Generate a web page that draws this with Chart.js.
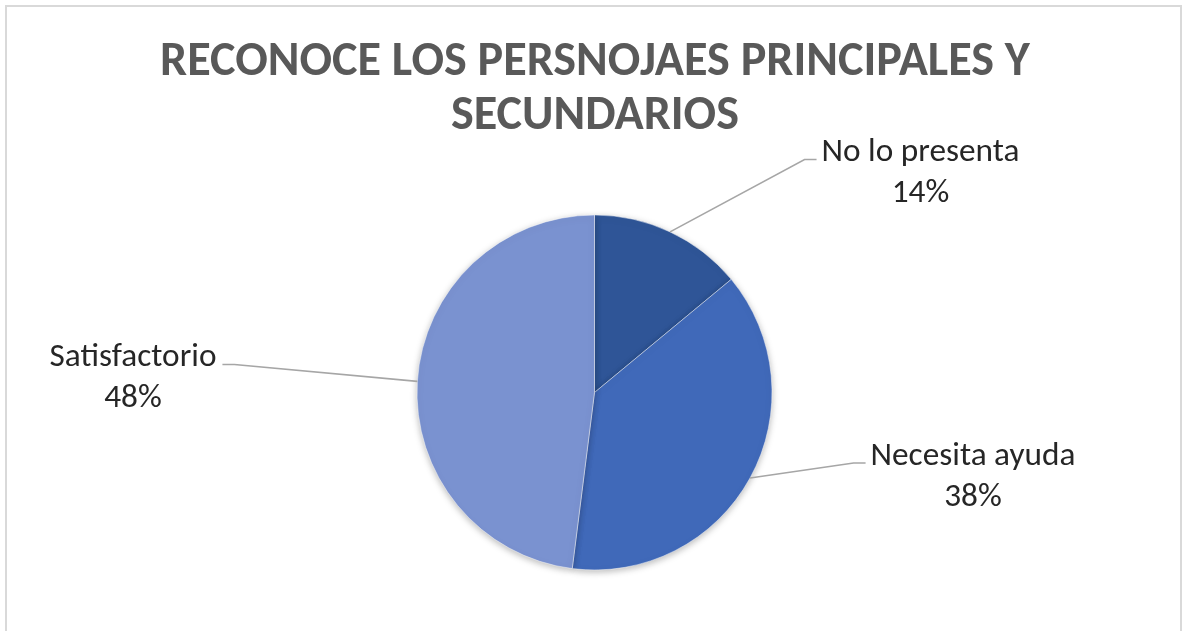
<!DOCTYPE html>
<html>
<head>
<meta charset="utf-8">
<script src="https://cdn.jsdelivr.net/npm/chart.js@4.4.1/dist/chart.umd.min.js"></script>
<style>
  html, body { margin: 0; padding: 0; background: #fff; overflow: hidden; }
  #wrap { position: relative; width: 1182px; height: 631px; }
  #frame { position: absolute; left: 5px; top: 5px; width: 1177px; height: 700px; box-sizing: border-box; border: 2px solid #d9d9d9; pointer-events: none; }
  canvas { position: absolute; left: 0; top: 0; }
</style>
</head>
<body>
<div id="wrap">
  <canvas id="chart" width="1182" height="631"></canvas>
  <div id="frame"></div>
</div>
<script>
/* pie: reconoce personajes */
const TITLE_LINES = ["RECONOCE LOS PERSNOJAES PRINCIPALES Y", "SECUNDARIOS"];
const CATEGORIES = ["No lo presenta", "Necesita ayuda", "Satisfactorio"];
const VALUES = [14, 38, 48];
const COLORS = ["#2F5597", "#4069B9", "#7A92D0"];

// label block centre, relative to pie centre (style only)
const LABEL_OFFSETS = [[326, -221.5], [378.5, 82], [-461.5, -16.5]];
const FONT_STACK = "Carlito, 'Open Sans', 'Noto Sans', sans-serif";

function fitSize(ctx, text, weight, target) {
  ctx.font = weight + " 100px " + FONT_STACK;
  return 100 * target / ctx.measureText(text).width;
}

const shadowPlugin = {
  id: "shadow",
  beforeDatasetsDraw(chart) {
    const ctx = chart.ctx;
    ctx.save();
    ctx.shadowColor = "rgba(0,0,0,0.28)";
    ctx.shadowBlur = 7;
    ctx.shadowOffsetY = 2;
  },
  afterDatasetsDraw(chart) { chart.ctx.restore(); }
};

const labelPlugin = {
  id: "labels",
  afterDraw(chart) {
    const ctx = chart.ctx;
    ctx.save();
    // title
    const ts = fitSize(ctx, TITLE_LINES[0], "bold", 870);
    ctx.font = "bold " + ts + "px " + FONT_STACK;
    ctx.fillStyle = "#595959";
    ctx.textAlign = "center";
    ctx.textBaseline = "alphabetic";
    ctx.fillText(TITLE_LINES[0], 595, 75);
    ctx.fillText(TITLE_LINES[1], 595, 129);

    // data labels + leader lines
    const ls = fitSize(ctx, "No lo presenta", "normal", 198);
    ctx.font = ls + "px " + FONT_STACK;
    const total = VALUES.reduce((a, b) => a + b, 0);
    const meta = chart.getDatasetMeta(0);
    meta.data.forEach((arc, i) => {
      const p = arc.getProps(["x", "y", "startAngle", "endAngle", "outerRadius"], true);
      const mid = (p.startAngle + p.endAngle) / 2;
      const sx = p.x + Math.cos(mid) * p.outerRadius;
      const sy = p.y + Math.sin(mid) * p.outerRadius;
      const cx = p.x + LABEL_OFFSETS[i][0];
      const cy = p.y + LABEL_OFFSETS[i][1];
      const line1 = CATEGORIES[i];
      const line2 = Math.round(VALUES[i] / total * 100) + "%";
      const w = ctx.measureText(line1).width;
      const right = cx > p.x;
      const ex = right ? cx - w / 2 - 5 : cx + w / 2 + 6;
      const ey = cy - 20.5 + 9;
      const kx = right ? ex - 12 : ex + 12;
      ctx.strokeStyle = "#A6A6A6";
      ctx.lineWidth = 1.6;
      ctx.beginPath();
      ctx.moveTo(sx, sy);
      ctx.lineTo(kx, ey);
      ctx.lineTo(ex, ey);
      ctx.stroke();
      ctx.fillStyle = "#262626";
      ctx.textAlign = "center";
      ctx.fillText(line1, cx, cy - 20.5 + 10.5);
      ctx.fillText(line2, cx, cy + 20.5 + 10.5);
    });
    ctx.restore();
  }
};

new Chart(document.getElementById("chart"), {
  type: "pie",
  data: {
    labels: CATEGORIES,
    datasets: [{
      data: VALUES,
      backgroundColor: COLORS,
      borderColor: "rgba(255,255,255,0.45)",
      borderWidth: 1,
      radius: 177.5,
    }],
  },
  options: {
    responsive: false,
    animation: false,
    devicePixelRatio: 1,
    layout: { padding: { top: 215, bottom: 61, left: 7, right: 0 } },
    plugins: { legend: { display: false }, tooltip: { enabled: false }, title: { display: false } },
  },
  plugins: [shadowPlugin, labelPlugin],
});
</script>
</body>
</html>
